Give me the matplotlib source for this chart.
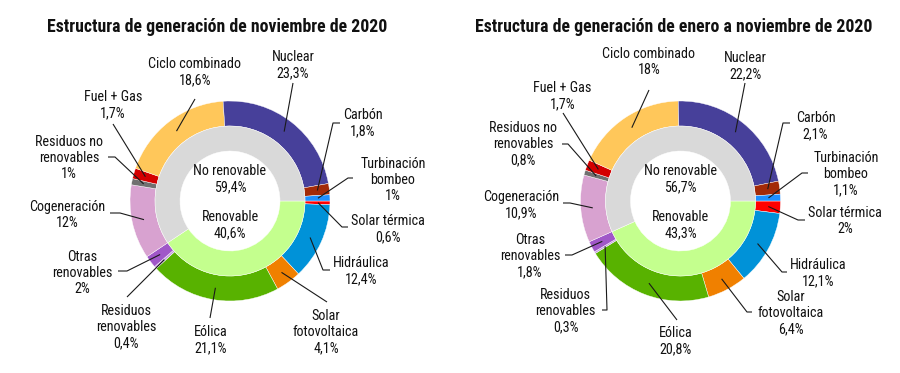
import matplotlib
matplotlib.use('Agg')
import matplotlib.pyplot as plt
import numpy as np

# ---------------- data ----------------
categories = ['Solar térmica', 'Hidráulica', 'Solar fotovoltaica', 'Eólica',
              'Residuos renovables', 'Otras renovables', 'Cogeneración',
              'Residuos no renovables', 'Fuel + Gas', 'Ciclo combinado',
              'Nuclear', 'Carbón', 'Turbinación bombeo']
label_names = ['Solar térmica', 'Hidráulica', 'Solar\nfotovoltaica', 'Eólica',
               'Residuos\nrenovables', 'Otras\nrenovables', 'Cogeneración',
               'Residuos no\nrenovables', 'Fuel + Gas', 'Ciclo combinado',
               'Nuclear', 'Carbón', 'Turbinación\nbombeo']
nov_values = [0.6, 12.4, 4.1, 21.1, 0.4, 2, 12, 1, 1.7, 18.6, 23.3, 1.8, 1]
ytd_values = [2, 12.1, 6.4, 20.8, 0.3, 1.8, 10.9, 0.8, 1.7, 18, 22.2, 2.1, 1.1]
groups = ['Renovable', 'No renovable']
nov_groups = [40.6, 59.4]
ytd_groups = [43.3, 56.7]
titles = ['Estructura de generación de noviembre de 2020',
          'Estructura de generación de enero a noviembre de 2020']

# ---------------- style ----------------
colors = ['#ff0000', '#0092d8', '#f08000', '#58b200', '#c49ce0', '#a057c8',
          '#d8a2d0', '#707070', '#d40000', '#ffc75a', '#47409a', '#a32a08',
          '#1e8fff']
group_colors = ['#c4ff8e', '#d9d9d9']

plt.rcParams['font.family'] = ['Liberation Sans Narrow', 'Roboto Condensed', 'DejaVu Sans']

W, H = 900, 373
fig = plt.figure(figsize=(9, 3.73), dpi=100)
fig.patch.set_facecolor('white')

def fmt(v):
    s = ('%g' % v).replace('.', ',')
    return s + '%'

# layout (pixel positions): label centre and leader-line end points
layout_left = dict(
    center=(230, 201),
    labels=[(388, 229), (361, 271), (326, 332), (211, 340), (126, 327), (82, 273),
            (67, 215), (69, 158), (113, 105), (195, 72), (293, 65), (363, 123), (393, 180)],
    leaders=[[(342, 227), (348, 227)], [(323, 270), (330, 270)], [(327, 302)], [(210, 318)],
             [(127, 297)], [(127, 271), (118, 271)], [(120, 213), (110, 213)],
             [(115, 157), (108, 157)], [(113, 124)], [(195, 99)], [(293, 83)],
             [(333, 123), (340, 123)], [(348, 178), (353, 178)]],
    title_x=217,
)
layout_right = dict(
    center=(680.5, 201),
    labels=[(845, 221), (818, 273), (790.5, 313), (676, 341), (565.5, 311), (530, 256),
            (521, 205), (523, 144), (562.5, 96), (649, 62), (745, 66), (815.5, 126), (846, 174)],
    leaders=[[(798, 220), (805, 220)], [(782, 272), (787, 272)], [(747, 312), (752, 312)],
             [(677, 320)], [(607, 310), (602, 310)], [(572, 255), (565, 255)],
             [(570, 203), (563, 203)], [(568, 144), (562, 144)], [(563, 113)],
             [(649, 90)], [(745, 83)], [(783, 123), (790, 123)], [(802, 173), (808, 173)]],
    title_x=674,
)

SCALE = 100.0  # pixels per data unit


def draw(values, gvals, layout, title, ax_left_px, ax_w_px):
    cx, cy = layout['center']
    ax = fig.add_axes([ax_left_px / W, 0, ax_w_px / W, 1])
    wedges, _ = ax.pie(values, radius=1.0, startangle=0, counterclock=False,
                       colors=colors,
                       wedgeprops=dict(width=0.25, edgecolor='white', linewidth=0.3))
    ax.pie(gvals, radius=0.75, startangle=0, counterclock=False, colors=group_colors,
           wedgeprops=dict(width=0.25, edgecolor='white', linewidth=0.3))
    x0 = (ax_left_px - cx) / SCALE
    ax.set_xlim(x0, x0 + ax_w_px / SCALE)
    ax.set_ylim(-(H - cy) / SCALE, cy / SCALE)
    ax.set_aspect('auto')
    ax.axis('off')

    def p2d(p):
        return ((p[0] - cx) / SCALE, (cy - p[1]) / SCALE)

    for w, name, v, lab, pts in zip(wedges, label_names, values,
                                    layout['labels'], layout['leaders']):
        mid = np.deg2rad((w.theta1 + w.theta2) / 2)
        start = (0.88 * np.cos(mid), 0.88 * np.sin(mid))
        xs = [start[0]] + [p2d(p)[0] for p in pts]
        ys = [start[1]] + [p2d(p)[1] for p in pts]
        ax.plot(xs, ys, color='#1a1a1a', lw=0.8, solid_capstyle='butt', zorder=5)
        tx, ty = p2d(lab)
        ax.text(tx, ty, name + '\n' + fmt(v), ha='center', va='center',
                fontsize=10.2, linespacing=1.2, color='#111111')

    ax.text(0, p2d((0, 179))[1], groups[1] + '\n' + fmt(gvals[1]), ha='center',
            va='center', fontsize=10.2, linespacing=1.2, color='#111111')
    ax.text(0, p2d((0, 225))[1], groups[0] + '\n' + fmt(gvals[0]), ha='center',
            va='center', fontsize=10.2, linespacing=1.2, color='#111111')

    fig.text(layout['title_x'] / W, 1 - 27 / H, title, ha='center', va='center',
             fontsize=12.8, fontweight='bold', color='#111111')


draw(nov_values, nov_groups, layout_left, titles[0], 0, 450)
draw(ytd_values, ytd_groups, layout_right, titles[1], 450, 450)

fig.savefig('out.png', dpi=100, facecolor='white')
